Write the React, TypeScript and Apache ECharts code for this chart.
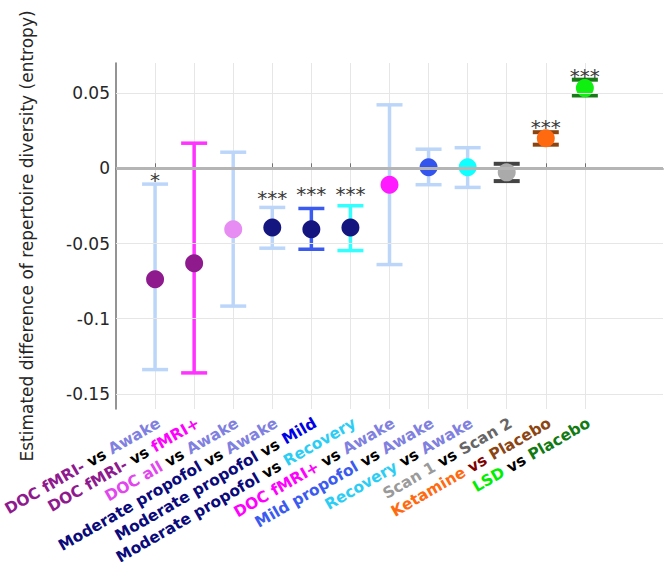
import React, { useEffect, useRef } from "react";
import * as echarts from "echarts";

const FONT = "DejaVu Sans";

const AWAKE = "#8080e0";
const BLACK = "#000000";

// Each category label is made of coloured text segments
const labelParts: [string, string][][] = [
  [["DOC fMRI-", "#8e1a8e"], [" vs ", BLACK], ["Awake", AWAKE]],
  [["DOC fMRI-", "#8e1a8e"], [" vs ", BLACK], ["fMRI+", "#ff00ff"]],
  [["DOC all", "#e246ee"], [" vs ", BLACK], ["Awake", AWAKE]],
  [["Moderate propofol", "#0a0a7a"], [" vs ", BLACK], ["Awake", AWAKE]],
  [["Moderate propofol", "#0a0a7a"], [" vs ", BLACK], ["Mild", "#0000e6"]],
  [["Moderate propofol", "#0a0a7a"], [" vs ", BLACK], ["Recovery", "#2ccdf5"]],
  [["DOC fMRI+", "#ff00ff"], [" vs ", BLACK], ["Awake", AWAKE]],
  [["Mild propofol", "#3b5bf0"], [" vs ", BLACK], ["Awake", AWAKE]],
  [["Recovery", "#2ccdf5"], [" vs ", BLACK], ["Awake", AWAKE]],
  [["Scan 1", "#9a9a9a"], [" vs ", BLACK], ["Scan 2", "#666666"]],
  [["Ketamine", "#ff6a10"], [" vs ", "#800000"], ["Placebo", "#8b4513"]],
  [["LSD", "#00ee00"], [" vs ", BLACK], ["Placebo", "#127a12"]],
];

const categories = labelParts.map((p) => p.map((s) => s[0]).join(""));

const means = [-0.0738, -0.0631, -0.0405, -0.0393, -0.0405, -0.0393, -0.0109, 0.0007, 0.0007, -0.0027, 0.02, 0.0533];
const lower = [-0.1338, -0.136, -0.0916, -0.0531, -0.0538, -0.0547, -0.064, -0.0109, -0.0127, -0.0085, 0.0157, 0.0484];
const upper = [-0.0105, 0.0167, 0.0107, -0.026, -0.0267, -0.0249, 0.0422, 0.0127, 0.0137, 0.003, 0.024, 0.0589];

const pointColors = ["#8e1a8e", "#8e1a8e", "#e68cf2", "#15157f", "#15157f", "#15157f", "#ff1aff", "#3355ee", "#10ffff", "#aaaaaa", "#ff6a10", "#10f010"];
const barColors = ["#bcd6fa", "#ff33ff", "#bcd6fa", "#bcd6fa", "#3b5bf0", "#33ffff", "#bcd6fa", "#bcd6fa", "#bcd6fa", "#444444", "#8b4513", "#1a7a1a"];
const barWidths = [3.5, 3.5, 3.5, 3.5, 3.5, 3.5, 3.5, 3.5, 3.5, 4, 4, 4];

const stars = ["*", "", "", "***", "***", "***", "", "", "", "", "***", "***"];
const starY = [-0.006, 0, 0, -0.0176, -0.015, -0.015, 0, 0, 0, 0, 0.0295, 0.0635];

const yTicks = [-0.15, -0.1, -0.05, 0, 0.05];
const yMin = -0.16;
const yMax = 0.07;

const yName = "Estimated difference of repertoire diversity (entropy)";

export default function App() {
  const ref = useRef<HTMLDivElement>(null);

  useEffect(() => {
    document.body.style.margin = "0";
    if (!ref.current) return;
    const chart = echarts.init(ref.current, undefined, { renderer: "svg" });

    const colorKeys: Record<string, string> = {};
    const rich: Record<string, any> = {};
    let k = 0;
    labelParts.forEach((parts) =>
      parts.forEach(([, c]) => {
        if (!(c in colorKeys)) {
          const key = "c" + k++;
          colorKeys[c] = key;
          rich[key] = { color: c, fontWeight: "bold", fontSize: 15.5, fontFamily: FONT, lineHeight: 16 };
        }
      })
    );

    const xData = ["", ...categories, "", ""];
    const inRange = (i: number) => i >= 1 && i <= categories.length;
    const starData = stars.map((s, i) => [i + 1, starY[i], s]).filter((d) => d[2] !== "");

    const option: any = {
      animation: false,
      backgroundColor: "#ffffff",
      grid: { left: 116, top: 63, right: 1, bottom: 153, containLabel: false, outerBoundsMode: "none" },
      xAxis: {
        type: "category",
        data: xData,
        boundaryGap: false,
        axisLine: { show: true, lineStyle: { color: "#707070", width: 1.5 } },
        axisTick: { show: true, inside: true, length: 5, interval: (i: number) => inRange(i), lineStyle: { color: "#707070" } },
        splitLine: { show: true, interval: (i: number) => inRange(i), lineStyle: { color: "#e6e6e6", width: 1 } },
        axisLabel: {
          show: true,
          interval: (i: number) => inRange(i),
          rotate: 30,
          margin: 6,
          verticalAlign: "top",
          lineHeight: 16,
          formatter: (_v: string, i: number) => {
            if (!inRange(i)) return "";
            return labelParts[i - 1].map(([t, c]) => `{${colorKeys[c]}|${t}}`).join("");
          },
          rich,
        },
      },
      yAxis: {
        type: "value",
        min: yMin,
        max: yMax,
        name: yName,
        nameLocation: "middle",
        nameGap: 81,
        nameTextStyle: { fontSize: 17, color: "#262626", fontFamily: FONT },
        axisLine: { show: true, lineStyle: { color: "#707070", width: 1.5 } },
        axisTick: { show: true, inside: true, length: 5, customValues: yTicks, lineStyle: { color: "#707070" } },
        axisLabel: { customValues: yTicks, fontSize: 17, color: "#262626", fontFamily: FONT, margin: 6 },
        splitLine: { show: false },
      },
      series: [
        {
          type: "line",
          data: [],
          silent: true,
          markLine: {
            silent: true,
            symbol: "none",
            label: { show: false },
            lineStyle: { color: "#e6e6e6", width: 1, type: "solid" },
            data: yTicks.filter((v) => v !== 0).map((v) => ({ yAxis: v })),
          },
          z: 1,
        },
        {
          type: "line",
          data: [],
          silent: true,
          markLine: {
            silent: true,
            symbol: "none",
            label: { show: false },
            lineStyle: { color: "#b5b5b5", width: 3, type: "solid" },
            data: [{ yAxis: 0 }],
          },
          z: 2,
        },
        {
          type: "custom",
          z: 3,
          data: means.map((_, i) => [i + 1, lower[i], upper[i]]),
          renderItem: (params: any, api: any) => {
            const i = params.dataIndex;
            const x = api.value(0);
            const lo = api.coord([x, api.value(1)]);
            const hi = api.coord([x, api.value(2)]);
            const half = 13;
            const style = { stroke: barColors[i], lineWidth: barWidths[i] };
            return {
              type: "group",
              children: [
                { type: "line", shape: { x1: lo[0], y1: lo[1], x2: hi[0], y2: hi[1] }, style },
                { type: "line", shape: { x1: lo[0] - half, y1: lo[1], x2: lo[0] + half, y2: lo[1] }, style },
                { type: "line", shape: { x1: hi[0] - half, y1: hi[1], x2: hi[0] + half, y2: hi[1] }, style },
              ],
            };
          },
        },
        {
          type: "scatter",
          z: 4,
          symbol: "circle",
          symbolSize: 18,
          itemStyle: { opacity: 1 },
          data: means.map((m, i) => ({ value: [i + 1, m], itemStyle: { color: pointColors[i], opacity: 1 } })),
        },
        {
          type: "custom",
          z: 5,
          data: starData,
          renderItem: (params: any, api: any) => {
            const p = api.coord([api.value(0), api.value(1)]);
            const d = starData[params.dataIndex];
            return {
              type: "text",
              x: p[0],
              y: p[1] + 3,
              style: {
                text: d[2] as string,
                fontSize: 20,
                fontFamily: FONT,
                fill: "#3a3a3a",
                align: "center",
                verticalAlign: "middle",
              },
            };
          },
        },
      ],
    };

    chart.setOption(option);
    return () => chart.dispose();
  }, []);

  return <div ref={ref} style={{ width: 664, height: 562 }} />;
}
